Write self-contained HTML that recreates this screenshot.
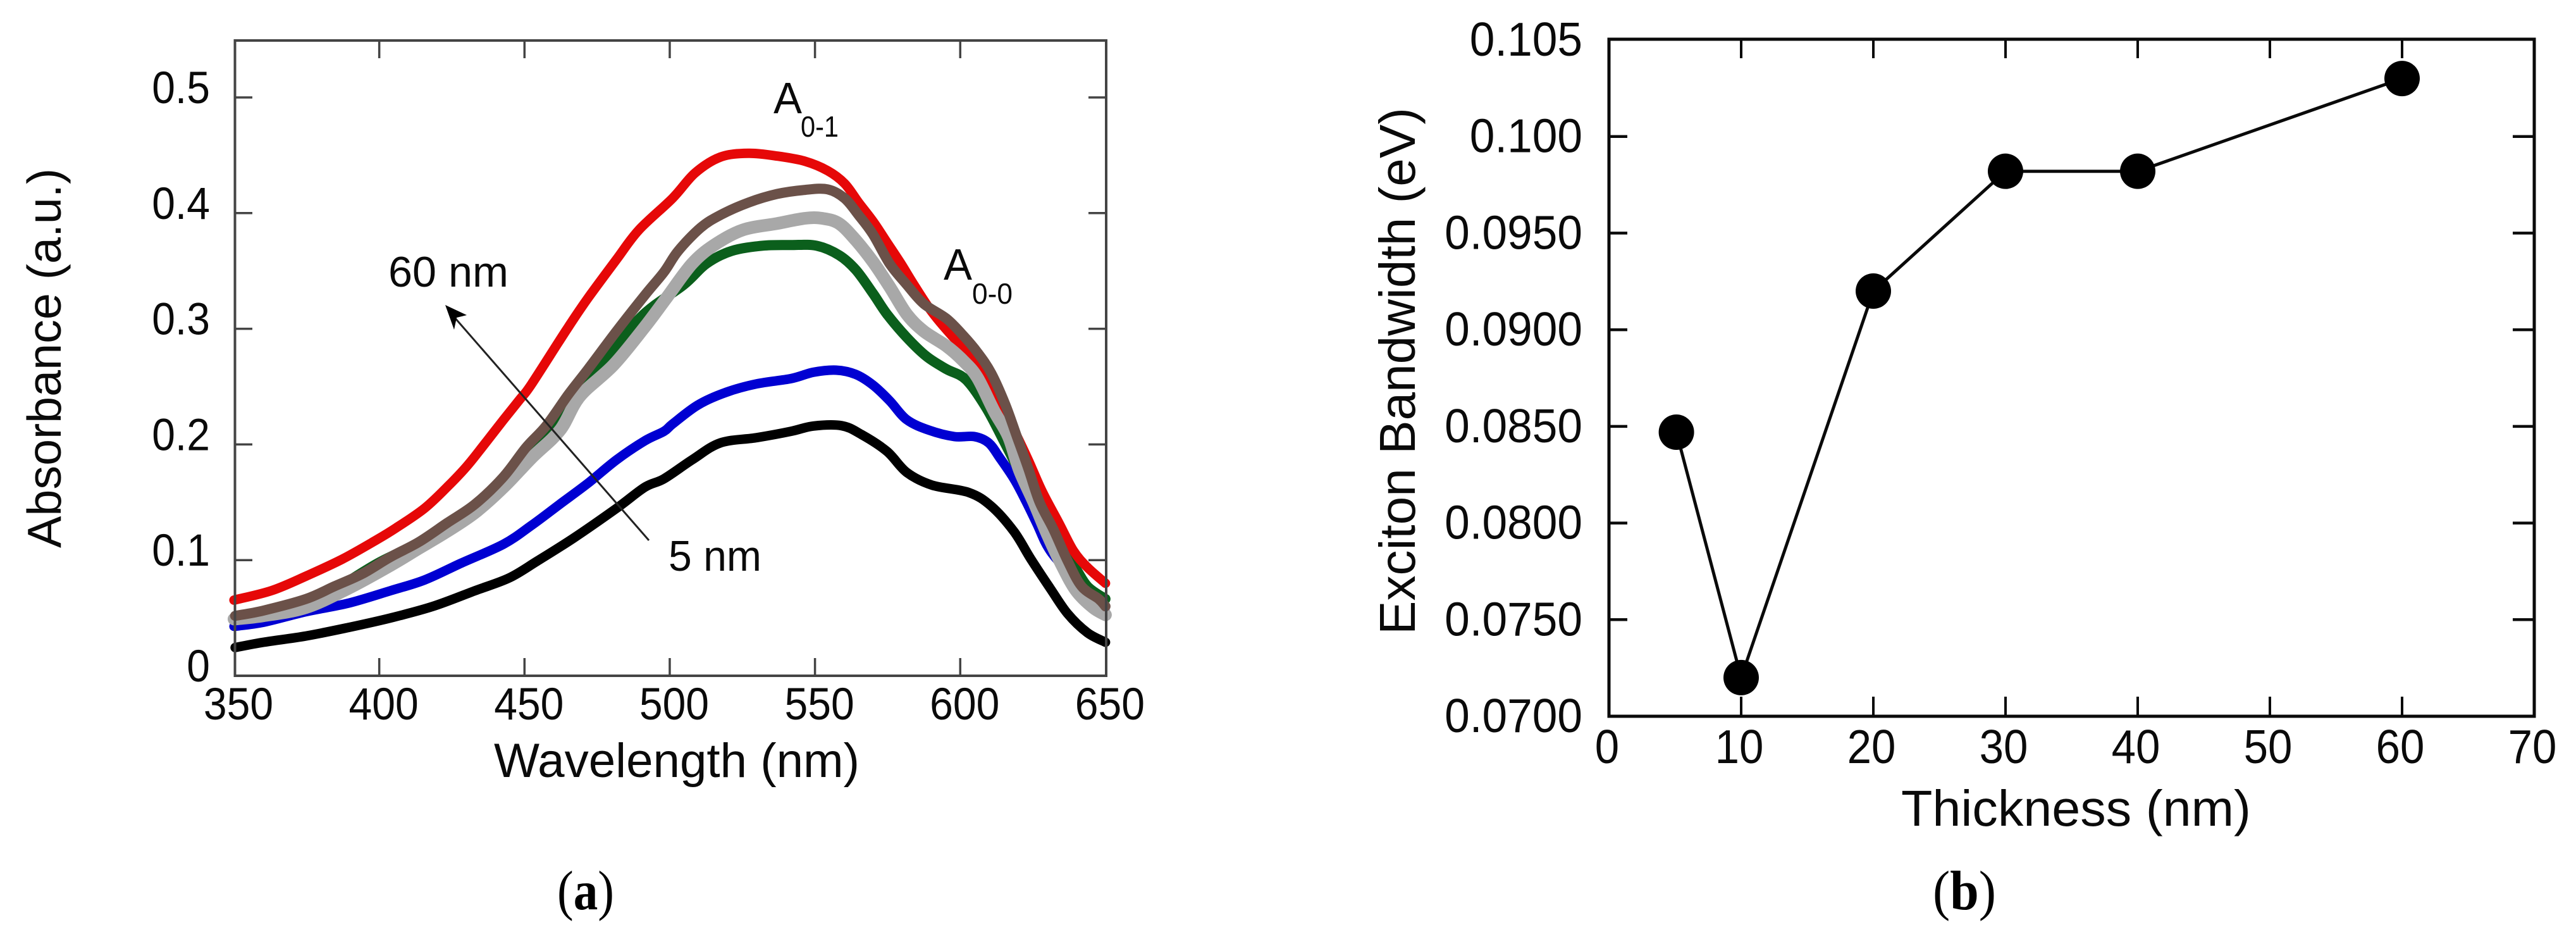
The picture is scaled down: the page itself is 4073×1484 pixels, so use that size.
<!DOCTYPE html>
<html lang="en">
<head>
<meta charset="utf-8">
<title>Absorbance and exciton bandwidth charts</title>
<style>
html,body{margin:0;padding:0;background:#fff;width:4073px;height:1484px;overflow:hidden}
svg{display:block}
text{font-family:"Liberation Sans",Arial,sans-serif;fill:#0a0a0a}
.cap{font-family:"Liberation Serif",serif;font-size:88px;fill:#000}
</style>
</head>
<body>
<svg id="figure" xmlns="http://www.w3.org/2000/svg" width="4073" height="1484" viewBox="0 0 4073 1484">
  <rect x="0" y="0" width="4073" height="1484" fill="#fff"/>

  <g id="panelA">
    <g id="seriesA"></g>
    <rect x="371.5" y="64" width="1377.5" height="1004" fill="none" stroke="#444" stroke-width="4"/>
    <g id="ticksA"></g>
    <text transform="translate(96 866) rotate(-90)" font-size="75" textLength="600" lengthAdjust="spacingAndGlyphs" fill="#222">Absorbance (a.u.)</text>
    <text x="781" y="1228" font-size="76" textLength="578" lengthAdjust="spacingAndGlyphs">Wavelength (nm)</text>
    <text x="1223" y="179" font-size="70" textLength="45" lengthAdjust="spacingAndGlyphs">A</text>
    <text x="1266" y="216" font-size="46" textLength="60" lengthAdjust="spacingAndGlyphs" fill="#222">0-1</text>
    <text x="1492" y="442" font-size="70" textLength="45" lengthAdjust="spacingAndGlyphs">A</text>
    <text x="1537" y="480" font-size="46" textLength="64" lengthAdjust="spacingAndGlyphs" fill="#222">0-0</text>
    <text x="614" y="453" font-size="68" textLength="190" lengthAdjust="spacingAndGlyphs">60 nm</text>
    <text x="1057" y="902" font-size="68" textLength="147" lengthAdjust="spacingAndGlyphs">5 nm</text>
    <line x1="1026" y1="854" x2="712" y2="494" stroke="#222" stroke-width="3"/>
    <polygon points="704,482 738,498 722,502 718,521" fill="#000"/>
    <text class="cap" x="881" y="1437" textLength="90" lengthAdjust="spacingAndGlyphs">(<tspan font-weight="bold">a</tspan>)</text>
  </g>

  <g id="panelB">
    <rect x="2544" y="62" width="1463" height="1070" fill="none" stroke="#0a0a0a" stroke-width="5"/>
    <g id="ticksB"></g>
    <g id="seriesB"></g>
    <text transform="translate(2237 1003) rotate(-90)" font-size="80" textLength="833" lengthAdjust="spacingAndGlyphs" fill="#222">Exciton Bandwidth (eV)</text>
    <text x="3006" y="1305" font-size="80" textLength="553" lengthAdjust="spacingAndGlyphs">Thickness (nm)</text>
    <text class="cap" x="3056" y="1437" textLength="100" lengthAdjust="spacingAndGlyphs">(<tspan font-weight="bold">b</tspan>)</text>
  </g>
</svg>

<script>
// ---- Panel (a) data: wavelength in nm, absorbance in a.u. ----
const aXTickValues = [350, 400, 450, 500, 550, 600, 650];
const aXTickLabels = ['350', '400', '450', '500', '550', '600', '650'];
const aYTickValues = [0, 0.1, 0.2, 0.3, 0.4, 0.5];
const aYTickLabels = ['0', '0.1', '0.2', '0.3', '0.4', '0.5'];

const greenNm = [350,375,400,425,450,475,490,504.8,512.6,521.3,532,541.7,550.5,558.3,564.1,569.9,574.8,581.6,588.4,595.2,602,608.8,614.6,620,630,639,643.8,650];
const greenAbs = [.05,.062,.098,.13,.185,.263,.31,.338,.3563,.3673,.3718,.3724,.3718,.3636,.3508,.3308,.3126,.2925,.2761,.2652,.256,.2323,.205,.178,.125,.0955,.0773,.0664];

const blueNm = [350,360.2,374.8,389.3,403.9,415.6,428.2,442.8,452.5,462.2,471.9,481.7,491.4,498,501,509.7,519.4,530,541.7,549.5,557.3,564,569.9,575.7,581.6,589.4,598,604.9,609.8,613.6,618.5,622.4,626.3,631,640,650];
const blueAbs = [.0427,.0463,.0554,.0627,.0736,.0828,.0974,.1138,.1302,.1484,.1666,.1867,.2031,.2113,.2177,.2341,.2451,.2524,.2569,.2624,.2642,.2606,.2515,.2378,.2214,.2122,.2068,.2068,.2013,.1885,.1703,.152,.132,.108,.082,.055];

const redNm = [350,363,375,387.4,399,405.9,415.6,423.3,430.1,436,442.8,448.6,452.5,465.1,472,481.7,489.4,501,508.7,517.4,527,537,546.6,554.4,560.2,565,570,574.8,579.6,584.5,590.3,597,604,608.8,614.6,619,623.4,628.2,634,639,643.8,650];
const redAbs = [.0654,.0737,.0864,.101,.1174,.128,.1448,.163,.181,.1995,.2214,.2396,.2524,.3016,.327,.36,.3855,.4129,.4347,.4484,.4517,.4493,.4448,.4366,.4256,.4092,.3928,.3746,.3563,.3363,.3144,.2943,.276,.2578,.2323,.21,.1867,.1594,.132,.108,.0937,.08];

const grayNm = [350,360,374.8,389.3,403.9,413.6,423.3,433,442.8,452.5,462.2,469,480.7,491.4,499,507.7,515.5,525.2,536.9,546.6,552.4,558.3,564.1,569.9,575.7,581.6,587.4,595.2,601,605.9,611.7,616.6,620.4,625.3,630.2,635,639.9,645.7,650];
const grayAbs = [.049,.0518,.059,.0755,.0955,.1101,.1247,.1411,.163,.1885,.2122,.2414,.2688,.3016,.3271,.3563,.3727,.3855,.391,.3955,.3955,.391,.3764,.3581,.3363,.3126,.298,.2852,.2724,.2578,.2286,.2068,.1776,.1502,.121,.0955,.0736,.059,.0527];

const brownNm = [350.4,360,374.8,384.5,394.2,403.9,413.6,423.3,433,442.8,450.6,457.4,465.1,471.9,481.7,491.4,498,502.9,510.6,517.4,527.2,536.9,546.6,554.4,560.2,565,569.9,575.7,581.6,587.4,595.2,601,605.9,610.7,615.6,619.5,623.4,627.3,632.1,637,641.8,647.7,650];
const brownAbs = [.0518,.0563,.0664,.0773,.0882,.1028,.1156,.132,.1484,.1721,.1976,.2159,.2432,.2652,.298,.329,.349,.3673,.3873,.3983,.4092,.4165,.4201,.4205,.4128,.3983,.3819,.3563,.3381,.3217,.3089,.2943,.2797,.2615,.234,.2068,.1794,.1502,.1265,.0992,.0773,.0664,.06];

const blackNm = [350.4,360.2,374.8,389.3,403.9,418.5,433,444.7,454.4,467,481.7,491.4,498,507.7,517.4,530,541.7,549.5,559.2,566,574.8,581.6,590.3,603,610.7,618.5,624.3,631,637,643.8,650];
const blackAbs = [.0244,.029,.0344,.0417,.05,.06,.0736,.0846,.0992,.1192,.1448,.163,.1703,.1867,.2013,.2059,.2113,.2159,.2162,.2086,.194,.1758,.1648,.1584,.1466,.1247,.101,.0755,.0536,.0372,.029];

// ---- Panel (b) data ----
const bThickness = [5.1, 10, 20, 30, 40, 60];
const bBandwidth = [0.0847, 0.072, 0.092, 0.0982, 0.0982, 0.103];
const bXTickValues = [0, 10, 20, 30, 40, 50, 60, 70];
const bXTickLabels = ['0', '10', '20', '30', '40', '50', '60', '70'];
const bYTickValues = [0.07, 0.075, 0.08, 0.085, 0.09, 0.095, 0.1, 0.105];
const bYTickLabels = ['0.0700', '0.0750', '0.0800', '0.0850', '0.0900', '0.0950', '0.100', '0.105'];

const NS = 'http://www.w3.org/2000/svg';
const xA = nm => 370 + (nm - 350) * 4.593;
const yA = v => 1068 - v * 1828;
const xB = t => 2544 + t * 20.9;
const yB = v => 1132 - (v - 0.07) * 30543;

function node(tag, parent, attrs) {
  const el = document.createElementNS(NS, tag);
  for (const k in attrs) el.setAttribute(k, attrs[k]);
  parent.appendChild(el);
  return el;
}
function squeeze(el, factor) {
  el.setAttribute('textLength', (el.getComputedTextLength() * factor).toFixed(1));
  el.setAttribute('lengthAdjust', 'spacingAndGlyphs');
}
// Smooth path through the read points (Catmull-Rom converted to cubic Beziers)
function smoothPath(xs, ys) {
  const p = xs.map((x, i) => [xA(x), yA(ys[i])]);
  let d = 'M' + p[0][0].toFixed(1) + ' ' + p[0][1].toFixed(1);
  for (let i = 0; i < p.length - 1; i++) {
    const a = p[Math.max(i - 1, 0)], b = p[i], c = p[i + 1], e = p[Math.min(i + 2, p.length - 1)];
    const c1x = b[0] + (c[0] - a[0]) / 6, c1y = b[1] + (c[1] - a[1]) / 6;
    const c2x = c[0] - (e[0] - b[0]) / 6, c2y = c[1] - (e[1] - b[1]) / 6;
    d += 'C' + c1x.toFixed(1) + ' ' + c1y.toFixed(1) + ' ' + c2x.toFixed(1) + ' ' + c2y.toFixed(1) + ' ' + c[0].toFixed(1) + ' ' + c[1].toFixed(1);
  }
  return d;
}

// ---- Panel (a) series ----
const seriesA = document.getElementById('seriesA');
const aSeries = [
  ['green-curve', greenNm, greenAbs, '#0b5f1c', 16],
  ['blue-curve', blueNm, blueAbs, '#0000d2', 15],
  ['red-curve', redNm, redAbs, '#e60808', 15],
  ['gray-curve', grayNm, grayAbs, '#a8a8a8', 20],
  ['brown-curve', brownNm, brownAbs, '#6b5149', 16],
  ['black-curve', blackNm, blackAbs, '#000000', 15]
];
aSeries.forEach(s => {
  const line = node('path', seriesA, {d: smoothPath(s[1], s[2]), fill: 'none', stroke: s[3], 'stroke-width': s[4], 'stroke-linejoin': 'round', 'stroke-linecap': 'round'});
  
  
});

// ---- Panel (a) ticks ----
const ticksA = document.getElementById('ticksA');
aXTickValues.forEach((v, i) => {
  const x = xA(v);
  if (v > 350 && v < 650) {
    const bottom = node('line', ticksA, {x1: x, x2: x, y1: 1068, y2: 1040, stroke: '#444', 'stroke-width': 3.5});
    
    
    const top = node('line', ticksA, {x1: x, x2: x, y1: 64, y2: 92, stroke: '#444', 'stroke-width': 3.5});
    
    
  }
  const label = node('text', ticksA, {x: x + 7, y: 1137, 'text-anchor': 'middle', 'font-size': 71});
  
  
  label.textContent = aXTickLabels[i];
  squeeze(label, 0.93);
});
aYTickValues.forEach((v, i) => {
  const y = yA(v);
  if (v > 0) {
    const left = node('line', ticksA, {x1: 371, x2: 399, y1: y, y2: y, stroke: '#444', 'stroke-width': 3.5});
    
    
    const right = node('line', ticksA, {x1: 1749, x2: 1721, y1: y, y2: y, stroke: '#444', 'stroke-width': 3.5});
    
    
  }
  const label = node('text', ticksA, {x: 332, y: y + 9, 'text-anchor': 'end', 'font-size': 71});
  
  
  label.textContent = aYTickLabels[i];
  squeeze(label, 0.93);
});

// ---- Panel (b) ticks ----
const ticksB = document.getElementById('ticksB');
bXTickValues.forEach((v, i) => {
  const x = xB(v);
  if (v > 0 && v < 70) {
    const bottom = node('line', ticksB, {x1: x, x2: x, y1: 1132, y2: 1101, stroke: '#0a0a0a', 'stroke-width': 4});
    
    
    const top = node('line', ticksB, {x1: x, x2: x, y1: 62, y2: 92, stroke: '#0a0a0a', 'stroke-width': 4});
    
    
  }
  const label = node('text', ticksB, {x: x - 3, y: 1206, 'text-anchor': 'middle', 'font-size': 75});
  
  
  label.textContent = bXTickLabels[i];
  squeeze(label, 0.92);
});
bYTickValues.forEach((v, i) => {
  const y = yB(v);
  if (v > 0.07 && v < 0.105) {
    const left = node('line', ticksB, {x1: 2544, x2: 2573, y1: y, y2: y, stroke: '#0a0a0a', 'stroke-width': 4.5});
    
    
    const right = node('line', ticksB, {x1: 4007, x2: 3973, y1: y, y2: y, stroke: '#0a0a0a', 'stroke-width': 4.5});
    
    
  }
  const label = node('text', ticksB, {x: 2502, y: y + 25, 'text-anchor': 'end', 'font-size': 75});
  
  
  label.textContent = bYTickLabels[i];
  squeeze(label, 0.95);
});

// ---- Panel (b) series ----
const seriesB = document.getElementById('seriesB');
const bPts = bThickness.map((t, i) => xB(t).toFixed(1) + ',' + yB(bBandwidth[i]).toFixed(1)).join(' ');
const bLine = node('polyline', seriesB, {points: bPts, fill: 'none', stroke: '#0a0a0a', 'stroke-width': 5});


bThickness.forEach((t, i) => {
  const dot = node('circle', seriesB, {cx: xB(t), cy: yB(bBandwidth[i]), r: 28, fill: '#000'});
  
  
});
</script>
</body>
</html>
